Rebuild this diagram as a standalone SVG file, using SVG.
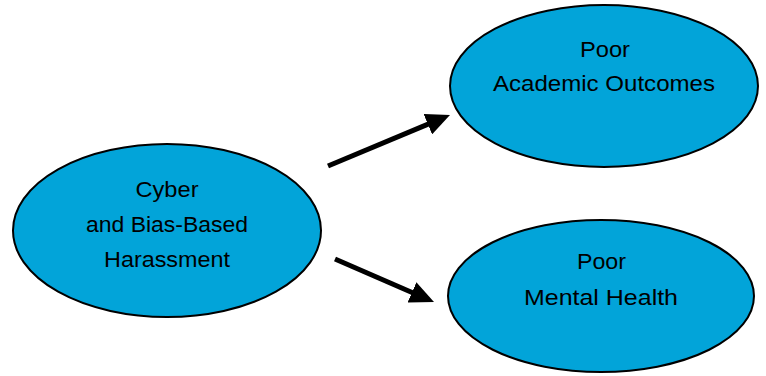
<svg xmlns="http://www.w3.org/2000/svg" width="766" height="376" viewBox="0 0 766 376">
<style>
.node ellipse{fill:#02A4D9;stroke:#000;stroke-width:2}
.node text{font-family:"Liberation Sans",Arial,sans-serif;font-size:22px;fill:#000;text-anchor:middle}
.conn line{stroke:#000;stroke-width:5}
</style>
<defs>
<marker id="ah" markerUnits="userSpaceOnUse" viewBox="0 0 24 22" markerWidth="24" markerHeight="22" refX="12" refY="11" orient="auto">
<path d="M0,0 L24,11 L0,22 z" fill="#000"/>
</marker>
</defs>
<rect width="766" height="376" fill="#fff"/>
<g id="connectors" class="conn">
<line x1="328" y1="166" x2="438.9" y2="119.6" marker-end="url(#ah)"/>
<line x1="335" y1="259" x2="423" y2="297.2" marker-end="url(#ah)"/>
</g>
<g id="harassment" class="node">
<ellipse cx="167" cy="230.5" rx="154" ry="86.5"/>
<text x="167" y="197" textLength="63" lengthAdjust="spacingAndGlyphs">Cyber</text>
<text x="167" y="232" textLength="162" lengthAdjust="spacingAndGlyphs">and Bias-Based</text>
<text x="167" y="267" textLength="126" lengthAdjust="spacingAndGlyphs">Harassment</text>
</g>
<g id="academic" class="node">
<ellipse cx="604" cy="86" rx="154" ry="81"/>
<text x="605" y="57" textLength="50" lengthAdjust="spacingAndGlyphs">Poor</text>
<text x="604" y="91" textLength="222" lengthAdjust="spacingAndGlyphs">Academic Outcomes</text>
</g>
<g id="mental" class="node">
<ellipse cx="601" cy="296" rx="153" ry="76"/>
<text x="601.5" y="269" textLength="49" lengthAdjust="spacingAndGlyphs">Poor</text>
<text x="601" y="305" textLength="154" lengthAdjust="spacingAndGlyphs">Mental Health</text>
</g>
</svg>
